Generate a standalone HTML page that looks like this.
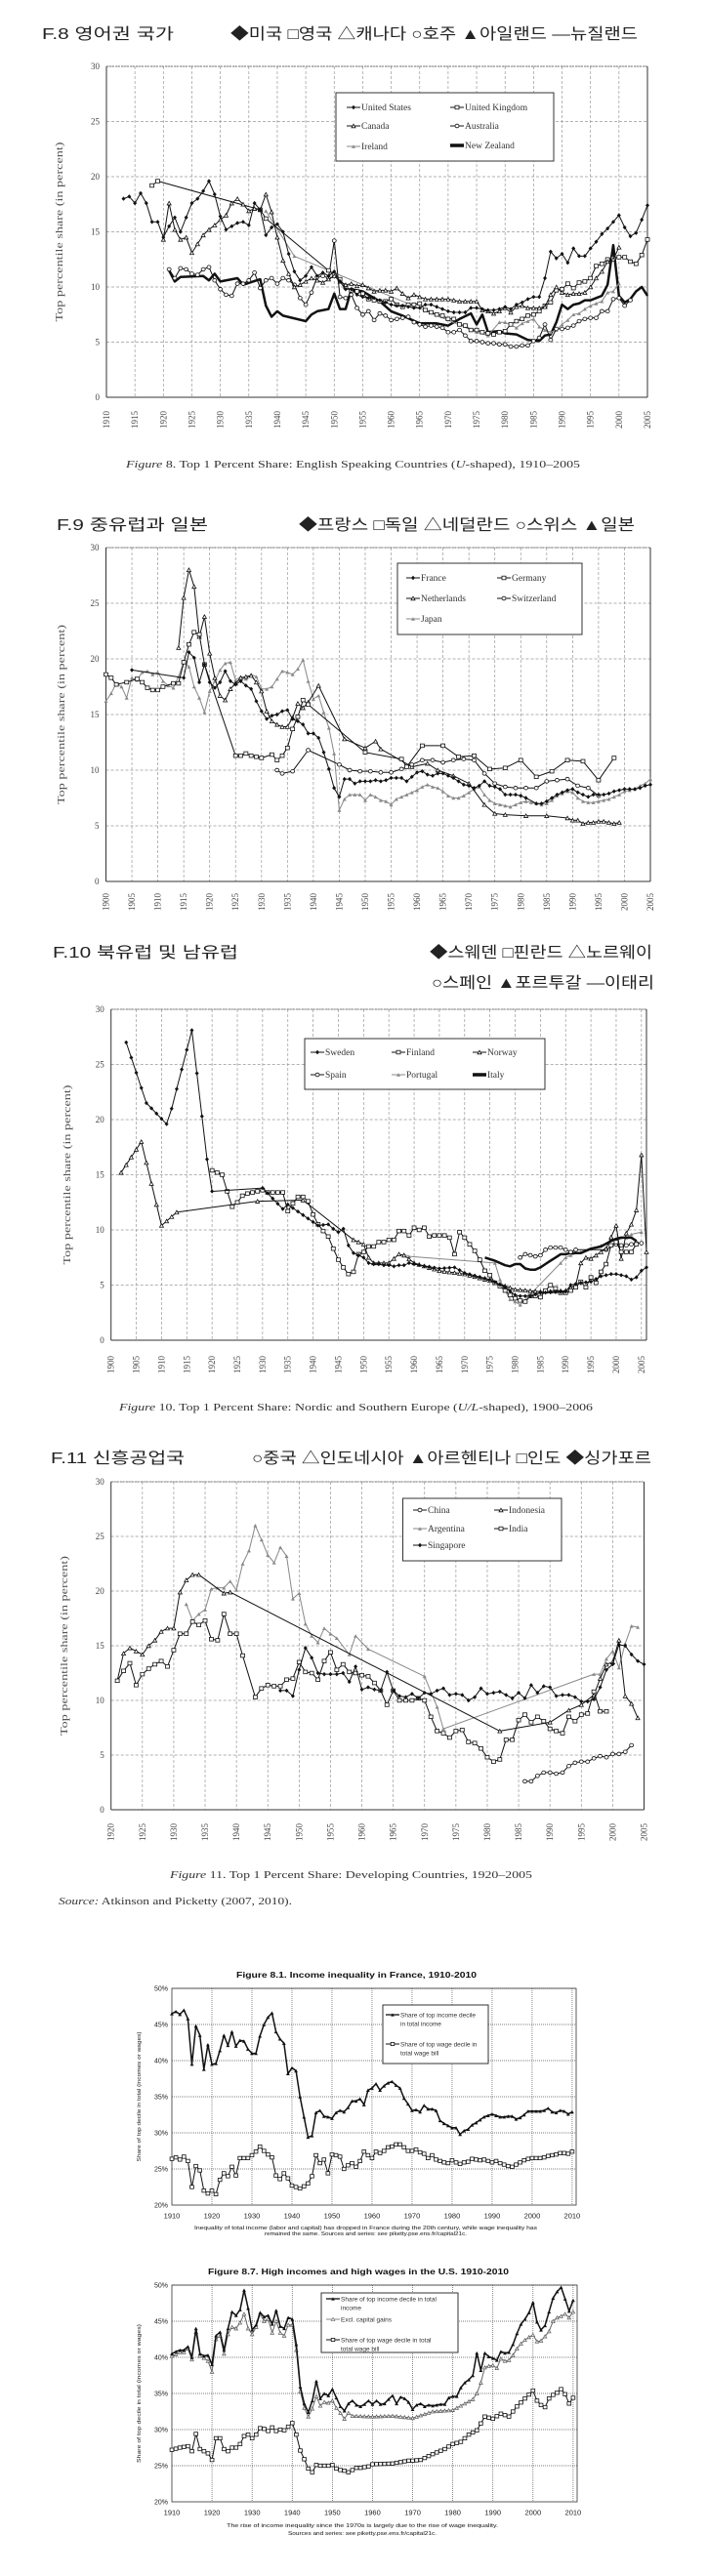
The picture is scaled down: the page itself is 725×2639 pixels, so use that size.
<!DOCTYPE html>
<html><head><meta charset="utf-8">
<style>
html,body{margin:0;padding:0;background:#fff;}
svg{display:block;}
</style></head>
<body>
<svg id="s" xmlns="http://www.w3.org/2000/svg" width="725" height="2639" viewBox="0 0 725 2639">
<rect width="725" height="2639" fill="#fff"/>
<g font-family="'Liberation Sans','Noto Sans CJK KR',sans-serif" font-size="16" fill="#222">
<text x="43" y="40" textLength="135" lengthAdjust="spacingAndGlyphs">F.8 영어권 국가</text>
<text x="236" y="40" textLength="417" lengthAdjust="spacingAndGlyphs">◆미국 □영국 △캐나다 ○호주 ▲아일랜드 —뉴질랜드</text>
<text x="58" y="543" textLength="155" lengthAdjust="spacingAndGlyphs">F.9 중유럽과 일본</text>
<text x="306" y="543" textLength="344" lengthAdjust="spacingAndGlyphs">◆프랑스 □독일 △네덜란드 ○스위스 ▲일본</text>
<text x="54" y="981" textLength="190" lengthAdjust="spacingAndGlyphs">F.10 북유럽 및 남유럽</text>
<text x="440" y="981" textLength="228" lengthAdjust="spacingAndGlyphs">◆스웨덴 □핀란드 △노르웨이</text>
<text x="442" y="1012" textLength="228" lengthAdjust="spacingAndGlyphs">○스페인 ▲포르투갈 —이태리</text>
<text x="52" y="1499" textLength="137" lengthAdjust="spacingAndGlyphs">F.11 신흥공업국</text>
<text x="258" y="1499" textLength="409" lengthAdjust="spacingAndGlyphs">○중국 △인도네시아 ▲아르헨티나 □인도 ◆싱가포르</text>
</g>
<g font-family="'Liberation Serif',serif" font-size="10" fill="#333">
<text x="129" y="479" textLength="465" lengthAdjust="spacingAndGlyphs"><tspan font-style="italic">Figure</tspan> 8. Top 1 Percent Share: English Speaking Countries (<tspan font-style="italic">U</tspan>-shaped), 1910–2005</text>
<text x="122" y="1445" textLength="485" lengthAdjust="spacingAndGlyphs"><tspan font-style="italic">Figure</tspan> 10. Top 1 Percent Share: Nordic and Southern Europe (<tspan font-style="italic">U/L</tspan>-shaped), 1900–2006</text>
<text x="174" y="1924" textLength="371" lengthAdjust="spacingAndGlyphs"><tspan font-style="italic">Figure</tspan> 11. Top 1 Percent Share: Developing Countries, 1920–2005</text>
<text x="60" y="1951" textLength="239" lengthAdjust="spacingAndGlyphs"><tspan font-style="italic">Source:</tspan> Atkinson and Picketty (2007, 2010).</text>
</g>
<g font-family="'Liberation Sans',sans-serif" fill="#111">
<text x="242" y="2026" font-size="8.5" font-weight="bold" textLength="246" lengthAdjust="spacingAndGlyphs">Figure 8.1. Income inequality in France, 1910-2010</text>
<text x="213" y="2330" font-size="8.5" font-weight="bold" textLength="308" lengthAdjust="spacingAndGlyphs">Figure 8.7. High incomes and high wages in the U.S. 1910-2010</text>
<text x="199" y="2284" font-size="5" textLength="351" lengthAdjust="spacingAndGlyphs">Inequality of total income (labor and capital) has dropped in France during the 20th century, while wage inequality has</text>
<text x="271" y="2290" font-size="5" textLength="207" lengthAdjust="spacingAndGlyphs">remained the same.  Sources and series: see piketty.pse.ens.fr/capital21c.</text>
<text x="232" y="2589" font-size="5" textLength="278" lengthAdjust="spacingAndGlyphs">The rise of income inequality since the 1970s is largely due to the rise of wage inequality.</text>
<text x="295" y="2597" font-size="5" textLength="152" lengthAdjust="spacingAndGlyphs">Sources and series: see piketty.pse.ens.fr/capital21c.</text>
</g>
<g id="g"></g>
</svg>
<script>
var NS="http://www.w3.org/2000/svg",G=document.getElementById("g");
function el(t,a,p,txt){if(typeof p==='string'||typeof p==='number'){txt=p;p=null;}var e=document.createElementNS(NS,t);for(var k in a)e.setAttribute(k,a[k]);if(txt!==undefined&&txt!==null)e.textContent=txt;(p||G).appendChild(e);return e;}
function P(s){var a=s.trim().split(/[\s,]+/).map(Number),r=[];for(var i=0;i<a.length;i+=2)r.push([a[i],a[i+1]]);return r;}
function fill(pts){var r=[];for(var i=0;i<pts.length;i++){r.push(pts[i]);if(i+1<pts.length){var a=pts[i],b=pts[i+1];if(b[0]-a[0]>1&&b[0]-a[0]<=6){for(var y=a[0]+1;y<b[0];y++)r.push([y,a[1]+(b[1]-a[1])*(y-a[0])/(b[0]-a[0])]);}}}return r;}
function marker(t,x,y,c,s){s=s||2;var h=s*0.9;
 if(t=='fd')el('path',{d:'M'+x+' '+(y-h-0.4)+'L'+(x+s)+' '+y+'L'+x+' '+(y+h+0.4)+'L'+(x-s)+' '+y+'Z',fill:c});
 else if(t=='os')el('rect',{x:x-s,y:y-h,width:2*s,height:2*h,fill:'#fff',stroke:c,'stroke-width':0.8});
 else if(t=='ot')el('path',{d:'M'+x+' '+(y-h)+'L'+(x+s)+' '+(y+h)+'L'+(x-s)+' '+(y+h)+'Z',fill:'#fff',stroke:c,'stroke-width':0.8});
 else if(t=='ft')el('path',{d:'M'+x+' '+(y-h)+'L'+(x+s)+' '+(y+h)+'L'+(x-s)+' '+(y+h)+'Z',fill:c});
 else if(t=='oc')el('ellipse',{cx:x,cy:y,rx:s,ry:h,fill:'#fff',stroke:c,'stroke-width':0.8});
}
function chart(o){
 var X=function(v){return o.x0+(v-o.yr0)/(o.yr1-o.yr0)*(o.x1-o.x0);},Y=function(v){return o.y1-(v-o.vmin)/(o.vmax-o.vmin)*(o.y1-o.y0);};
 var gd=o.pik?'1,1':'3,2',gc=o.pik?'#555':'#999';
 for(var v=o.vmin+o.vstep;v<=o.vmax;v+=o.vstep)el('line',{x1:o.x0,x2:o.x1,y1:Y(v),y2:Y(v),stroke:gc,'stroke-width':0.7,'stroke-dasharray':gd});
 for(var y=o.tk0;y<=o.yr1+0.01;y+=o.tstep){if(y>o.yr0)el('line',{x1:X(y),x2:X(y),y1:o.y0,y2:o.y1,stroke:gc,'stroke-width':0.7,'stroke-dasharray':gd});}
 if(o.pik)el('rect',{x:o.x0,y:o.y0,width:o.x1-o.x0,height:o.y1-o.y0,fill:'none',stroke:'#333','stroke-width':0.8});
 else{el('line',{x1:o.x0,x2:o.x0,y1:o.y0,y2:o.y1,stroke:'#333','stroke-width':1});el('line',{x1:o.x0,x2:o.x1,y1:o.y1,y2:o.y1,stroke:'#333','stroke-width':1});el('line',{x1:o.x1,x2:o.x1,y1:o.y0,y2:o.y1,stroke:'#333','stroke-width':1});el('line',{x1:o.x0,x2:o.x1,y1:o.y0,y2:o.y0,stroke:'#555','stroke-width':0.8,'stroke-dasharray':'2,1'});}
 for(var v=o.vmin;v<=o.vmax;v+=o.vstep){
  if(o.pik)el('text',{x:o.x0-4,y:Y(v)+2.5,'font-family':'Liberation Sans,sans-serif','font-size':7,'text-anchor':'end',fill:'#222'},null,v+'%');
  else el('text',{x:o.x0-7,y:Y(v)+3,'font-family':'Liberation Serif,serif','font-size':9,'text-anchor':'end',fill:'#444'},null,String(v));
 }
 for(var y=o.tk0;y<=o.yr1+0.01;y+=o.tstep){
  if(o.pik)el('text',{x:X(y),y:o.y1+13.5,'font-family':'Liberation Sans,sans-serif','font-size':7.5,'text-anchor':'middle',fill:'#222'},null,String(y));
  else el('text',{x:0,y:0,transform:'translate('+(X(y)+3)+','+(o.y1+o.ty)+') rotate(-90)','font-family':'Liberation Serif,serif','font-size':9,'text-anchor':'middle',fill:'#444'},null,String(y));
 }
 if(o.pik)el('text',{x:0,y:0,transform:'translate('+(o.x0-32)+','+((o.y0+o.y1)/2)+') rotate(-90)','font-family':'Liberation Sans,sans-serif','font-size':5,'text-anchor':'middle',fill:'#222',textLength:o.ytl,lengthAdjust:'spacingAndGlyphs'},null,'Share of top decile in total (incomes or wages)');
 else el('text',{x:0,y:0,transform:'translate('+o.yl+','+((o.y0+o.y1)/2)+') rotate(-90)','font-family':'Liberation Serif,serif','font-size':10,'text-anchor':'middle',fill:'#555',textLength:184,lengthAdjust:'spacingAndGlyphs'},null,'Top percentile share (in percent)');
 o.series.forEach(function(s){
  var pts=s.fill?fill(s.d):s.d;
  var d=pts.map(function(p,i){return (i?'L':'M')+X(p[0]).toFixed(1)+' '+Y(p[1]).toFixed(1);}).join('');
  el('path',{d:d,fill:'none',stroke:s.c,'stroke-width':s.w||1,'stroke-linejoin':'round'});
  if(s.m)pts.forEach(function(p){marker(s.m,X(p[0]),Y(p[1]),s.c,s.ms);});
 });
 var L=o.leg;
 el('rect',{x:L.x,y:L.y,width:L.w,height:L.h,fill:'#fff',stroke:'#333','stroke-width':1});
 L.items.forEach(function(it){
  el('line',{x1:it[0],x2:it[0]+14,y1:it[1],y2:it[1],stroke:it[3],'stroke-width':it[4]||1});
  if(it[2])marker(it[2],it[0]+7,it[1],it[3],o.pik?1.8:2);
  var t=el('text',{x:it[0]+15,y:it[1]+(o.pik?2.3:3),'font-family':o.pik?'Liberation Sans,sans-serif':'Liberation Serif,serif','font-size':o.pik?6.5:9.5,fill:'#333'});
  String(it[5]).split('|').forEach(function(ln,i){el('tspan',{x:it[0]+15,dy:i?9:0},t,ln);});
 });
}
var K='#111',GR='#888';
chart({x0:109,x1:663,y0:68,y1:407,ty:23,yr0:1910,yr1:2005,vmin:0,vmax:30,vstep:5,tk0:1910,tstep:5,yl:64,
leg:{x:344,y:95,w:223,h:70,items:[[355,110,'fd',K,1,'United States'],[461,110,'os',K,1,'United Kingdom'],[355,129,'ot',K,1,'Canada'],[461,129,'oc',K,1,'Australia'],[355,150,'ft',GR,1,'Ireland'],[461,149,null,K,3.5,'New Zealand']]},
series:[
{c:K,w:2.5,d:P('1921 11.5 1922 10.5 1923 10.9 1927 11 1928 10.6 1929 11.2 1930 10.5 1933 10.8 1934 10.2 1937 10.7 1938 8.3 1939 7.3 1940 7.8 1941 7.4 1945 6.9 1946 7.5 1947 7.8 1949 8 1950 9.4 1951 8.0 1952 8.0 1953 9.8 1955 9.6 1958 8.7 1960 7.8 1962 7.4 1965 6.7 1968 6.7 1970 6.5 1972 7.1 1974 7.6 1975 6.6 1976 7.5 1977 5.9 1979 6.0 1980 5.8 1982 5.7 1984 5.2 1986 5.1 1987 5.6 1988 5.7 1989 6.8 1990 8.4 1991 8 1992 8.4 1993 8.5 1994 8.8 1995 8.8 1996 9 1997 9.2 1998 10.2 1999 13.8 2000 9.2 2001 8.6 2002 8.9 2003 9.6 2004 10.0 2005 9.2')},
{c:GR,m:'ft',d:P('1938 16.9 1943 12.8 1975 5.9 1977 5.6 1979 6.8 1980 6.8 1982 6.3 1983 6.7 1984 6.9 1985 7.1 1986 6.4 1987 6.1 1988 5.9 1989 6.1 1990 6.6 1991 7.0 1992 7.5 1993 7.6 1994 8.0 1995 8.3 1996 8.5 1997 8.7 1998 9.5 1999 9.6 2000 10.3')},
{c:K,m:'oc',fill:1,d:P('1921 11.6 1922 10.8 1923 11.7 1924 11.6 1925 11.2 1926 11.1 1927 11.6 1928 11.8 1929 10.6 1930 9.8 1931 9.3 1932 9.2 1933 10.3 1934 10.3 1935 10.6 1936 11.3 1937 9.9 1938 10.6 1939 10.8 1940 10.3 1941 10.8 1942 10.6 1943 10.2 1944 9 1945 8.4 1946 9.5 1947 10.9 1948 11 1949 10.8 1950 14.2 1951 9.1 1952 9.0 1953 9.3 1954 8.1 1955 7.5 1956 7.8 1957 7.0 1958 7.6 1959 7.4 1960 7.0 1961 7.1 1962 7.2 1963 7.3 1964 6.8 1965 6.6 1966 6.4 1967 6.5 1968 6.4 1969 6.3 1970 5.9 1971 5.9 1972 6.1 1973 5.6 1974 5.1 1975 5.1 1976 5.0 1977 4.9 1978 4.9 1979 4.8 1980 4.8 1981 4.6 1982 4.6 1983 4.7 1984 4.7 1985 5.1 1986 5.4 1987 6.6 1988 5.2 1989 6.2 1990 6.2 1991 6.3 1992 6.5 1993 6.9 1994 7.1 1995 7.2 1996 7.2 1997 7.8 1998 7.8 1999 8.9 2000 9.0 2001 8.3 2002 8.8')},
{c:K,m:'os',fill:1,d:P('1918 19.2 1919 19.6 1937 17 1938 16.2 1949 11.5 1951 10.7 1952 10 1953 9.7 1954 9.6 1955 9.4 1956 8.9 1957 8.8 1958 8.7 1959 8.7 1960 8.9 1961 8.4 1962 8.2 1963 8.4 1964 8.4 1965 8.5 1966 7.9 1967 7.7 1968 7.5 1969 7.4 1970 7.1 1971 7.1 1972 6.6 1973 6.5 1974 6.1 1975 6.1 1976 5.9 1977 5.8 1978 5.7 1979 5.9 1980 6 1981 6.6 1982 6.9 1983 7.1 1984 7.4 1985 7.5 1986 7.8 1987 8.3 1988 8.6 1989 9.7 1990 9.8 1991 10.3 1992 9.9 1993 10.4 1994 10.5 1995 10.8 1996 11.9 1997 12.1 1998 12.5 1999 12.6 2000 12.7 2001 12.7 2002 12.3 2003 12.1 2004 12.9 2005 14.3')},
{c:K,m:'ot',d:P('1920 14.3 1921 17.6 1922 15.2 1923 14.3 1924 14.5 1925 13.1 1926 13.9 1927 14.7 1928 15.2 1929 15.6 1930 16.1 1931 16.5 1932 17.6 1933 18.0 1934 17.5 1935 16.9 1936 17.1 1937 17 1938 18.4 1939 16.8 1940 14.5 1941 12.4 1942 11.2 1943 10 1944 10.2 1945 10.5 1946 10.8 1947 10.6 1948 10.4 1949 10.7 1950 11 1951 10.5 1952 10.2 1953 10.3 1954 10.1 1955 10.2 1956 9.9 1957 9.6 1958 9.7 1959 9.7 1960 9.6 1961 9.9 1962 9.4 1963 9.0 1964 9.3 1965 9.1 1966 8.9 1967 8.9 1968 8.9 1969 8.9 1970 8.9 1971 8.8 1972 8.7 1973 8.7 1974 8.7 1975 8.7 1976 7.9 1977 7.8 1978 7.6 1979 7.8 1980 8.1 1981 7.7 1982 8.2 1983 8.3 1984 8.1 1985 8.1 1986 8.1 1987 8.2 1988 9.3 1989 10 1990 9.5 1991 9.3 1992 9.4 1993 9.4 1994 9.5 1995 10.0 1996 10.8 1997 11.4 1998 12.3 1999 12.5 2000 13.6')},
{c:K,m:'fd',d:P('1913 18 1914 18.2 1915 17.6 1916 18.5 1917 17.6 1918 15.9 1919 15.9 1920 14.5 1921 15.5 1922 16.3 1923 15 1924 16.3 1925 17.6 1926 18 1927 18.7 1928 19.6 1929 18.4 1930 16.4 1931 15.2 1932 15.5 1933 15.8 1934 15.9 1935 15.6 1936 17.6 1937 17 1938 14.7 1939 15.4 1940 15.7 1941 15 1942 13 1943 11.4 1944 10.6 1945 11 1946 11.8 1947 11 1948 11.3 1949 11 1950 11.4 1951 10.5 1952 9.8 1953 9.8 1954 9.3 1955 9.1 1956 9.0 1957 9.0 1958 8.8 1959 8.6 1960 8.4 1961 8.3 1962 8.3 1963 8.2 1964 8.1 1965 8.1 1966 8.4 1967 8.4 1968 8.2 1969 8.0 1970 7.8 1971 7.7 1972 7.7 1973 7.7 1974 8.1 1975 8.1 1976 8 1977 7.9 1978 7.9 1979 8.0 1980 8.2 1981 8.0 1982 8.4 1983 8.6 1984 8.9 1985 9.1 1986 9.1 1987 10.8 1988 13.2 1989 12.6 1990 13.0 1991 12.2 1992 13.5 1993 12.8 1994 12.8 1995 13.5 1996 14.1 1997 14.8 1998 15.3 1999 15.9 2000 16.5 2001 15.4 2002 14.6 2003 14.9 2004 16.1 2005 17.4')}
]});
chart({x0:108.5,x1:666,y0:561,y1:903,ty:21,yr0:1900,yr1:2005,vmin:0,vmax:30,vstep:5,tk0:1900,tstep:5,yl:66,
leg:{x:407,y:577,w:189,h:73,items:[[416,592,'fd',K,1,'France'],[509,592,'os',K,1,'Germany'],[416,613,'ot',K,1,'Netherlands'],[509,613,'oc',K,1,'Switzerland'],[416,634,'ft',GR,1,'Japan']]},
series:[
{c:GR,m:'ft',d:P('1900 16.2 1901 16.9 1902 17.8 1903 17.5 1904 16.5 1905 18.3 1906 18.1 1907 18.8 1908 18.9 1909 18.6 1910 18.8 1911 18.0 1912 17.6 1913 17.4 1914 18.4 1915 19.7 1916 19.3 1917 17.5 1918 16.5 1919 15.2 1920 17.1 1921 18.0 1922 19.0 1923 19.6 1924 19.7 1925 18.1 1926 18.4 1927 18.2 1928 18.6 1929 18.4 1930 17.3 1931 17.3 1932 17.5 1933 18.2 1934 18.9 1935 18.8 1936 18.6 1937 19.1 1938 19.9 1939 18.0 1940 16.4 1941 16.7 1942 15.2 1943 13.8 1944 11.5 1945 6.4 1946 7.4 1947 7.8 1948 7.8 1949 7.8 1950 7.3 1951 7.8 1952 7.6 1953 7.3 1954 7.2 1955 6.9 1956 7.4 1957 7.6 1958 7.8 1959 8.0 1960 8.2 1961 8.5 1962 8.7 1963 8.5 1964 8.4 1965 8.1 1966 7.7 1967 7.5 1968 7.5 1969 7.7 1970 8.0 1971 8.3 1972 8.5 1973 7.8 1974 7.3 1975 7.0 1976 6.9 1977 6.8 1978 6.7 1979 6.9 1980 7.1 1981 7.2 1982 7.1 1983 7.0 1984 6.9 1985 7.0 1986 7.3 1987 7.7 1988 7.9 1989 8.1 1990 8.0 1991 7.5 1992 7.2 1993 7.1 1994 7.1 1995 7.2 1996 7.3 1997 7.4 1998 7.6 1999 7.8 2000 8.1 2001 8.2 2002 8.3 2003 8.6 2004 8.8 2005 9.2')},
{c:K,m:'ot',d:P('1914 21 1915 25.5 1916 28 1917 26.5 1918 22 1919 23.8 1920 20.5 1921 18.3 1922 16.7 1923 16.3 1924 17.3 1925 17.8 1926 18.3 1927 18.4 1928 18.5 1929 17.9 1930 17.1 1931 15.3 1932 14.4 1933 14.1 1934 13.9 1935 13.9 1936 14.7 1937 16 1938 15.6 1939 16.1 1941 17.6 1946 12.8 1950 12.0 1952 12.6 1953 11.9 1959 10.3 1962 10.6 1964 10.0 1967 9.5 1970 8.8 1973 6.9 1975 6.1 1977 6.0 1981 5.9 1985 5.9 1989 5.7 1990 5.5 1991 5.5 1992 5.2 1993 5.3 1994 5.3 1995 5.4 1996 5.4 1997 5.3 1998 5.2 1999 5.3')},
{c:K,m:'oc',d:P('1933 10 1934 9.7 1936 9.9 1939 11.8 1945 10.5 1947 10.0 1949 9.9 1951 9.9 1953 9.8 1955 9.8 1957 10.1 1959 10.5 1961 10.9 1963 10.9 1965 10.7 1967 10.9 1969 11.0 1971 10.9 1973 9.7 1975 8.8 1977 8.5 1979 8.4 1981 8.4 1983 8.4 1985 9.0 1987 9.1 1989 9.2 1991 8.6 1993 8.4 1995 7.7')},
{c:K,m:'os',d:P('1900 18.6 1901 18.3 1902 17.7 1904 17.9 1906 18.2 1907 17.9 1908 17.4 1909 17.2 1910 17.2 1911 17.5 1913 17.8 1914 17.8 1915 19.7 1916 21.3 1917 22.4 1918 22.2 1919 19.5 1925 11.3 1926 11.3 1927 11.5 1928 11.3 1929 11.2 1930 11.1 1932 11.4 1933 10.9 1934 11.3 1935 12.0 1936 13.7 1937 14.8 1938 16.3 1939 15.9 1950 11.6 1957 11.0 1958 10.3 1961 12.2 1965 12.2 1968 11.2 1971 11.3 1974 10.1 1977 10.2 1980 10.9 1983 9.4 1986 9.9 1989 10.9 1992 10.8 1995 9.1 1998 11.1')},
{c:K,m:'fd',d:P('1905 19 1915 18.3 1916 20.6 1917 20.1 1918 17.9 1919 19.5 1920 17.9 1921 17.4 1922 17.9 1923 18.9 1924 18.0 1925 17.7 1926 18.0 1927 17.6 1928 17.3 1929 16.2 1930 15.3 1931 14.6 1932 14.9 1933 15.0 1934 15.3 1935 15.4 1936 14.6 1937 14.4 1938 14.1 1939 13.3 1940 13.3 1941 12.9 1942 11.6 1943 10.1 1944 8.4 1945 7.6 1946 9.2 1947 9.2 1948 8.8 1949 9.0 1950 9.0 1951 9.0 1952 9.1 1953 9.0 1954 9.1 1955 9.3 1956 9.3 1957 9.3 1958 9.0 1959 9.4 1960 9.8 1961 9.9 1962 9.6 1963 9.5 1964 9.7 1965 9.7 1966 9.5 1967 9.3 1968 9.0 1969 8.7 1970 8.6 1971 8.4 1972 8.6 1973 9.0 1974 8.6 1975 8.5 1976 8.3 1977 7.8 1978 7.8 1979 7.8 1980 7.7 1981 7.5 1983 7.0 1984 7.0 1985 7.2 1986 7.5 1987 7.8 1988 8.0 1989 8.2 1990 8.3 1991 8.0 1992 7.8 1993 7.6 1994 7.8 1995 7.8 1996 7.8 1997 7.9 1998 8.1 1999 8.2 2000 8.3 2001 8.3 2002 8.3 2003 8.4 2004 8.6 2005 8.7')}
]});
chart({x0:113.7,x1:662,y0:1034,y1:1373,ty:25,yr0:1900,yr1:2006,vmin:0,vmax:30,vstep:5,tk0:1900,tstep:5,yl:72,
leg:{x:312,y:1064,w:246,h:52,items:[[318,1078,'fd',K,1,'Sweden'],[401,1078,'os',K,1,'Finland'],[484,1078,'ot',K,1,'Norway'],[318,1101,'oc',K,1,'Spain'],[401,1101,'ft',GR,1,'Portugal'],[484,1101,null,K,3.5,'Italy']]},
series:[
{c:GR,m:'ft',d:P('1958 7.8 1959 7.6 1976 7.0 1977 5.5 1978 4.5 1979 3.7 1980 3.5 1981 3.2 1989 7.0 1990 7.5 1991 7.7 1993 8.0 1995 8.3 1997 8.6 2000 9.1 2002 9.3 2003 9.6 2005 9.8')},
{c:K,w:2.5,d:P('1974 7.5 1976 7.2 1978 6.8 1979 6.7 1980 6.9 1981 6.9 1982 6.5 1983 6.4 1984 6.4 1985 6.6 1986 6.9 1987 7.2 1988 7.5 1989 7.8 1990 7.8 1991 7.9 1992 7.9 1993 7.9 1995 8.3 1997 8.5 1999 9.0 2000 9.2 2001 9.3 2002 9.3 2003 9.3 2004 9.0')},
{c:K,m:'oc',d:P('1981 7.5 1982 7.8 1983 7.7 1984 7.6 1985 7.7 1986 8.2 1987 8.4 1988 8.4 1989 8.4 1990 8.2 1991 8.0 1992 8.2 1998 8.2 2000 8.7 2001 8.6 2002 8.6 2003 8.7 2004 8.8 2005 8.8')},
{c:K,m:'ot',fill:1,d:P('1902 15.2 1906 18 1910 10.4 1913 11.6 1929 12.6 1938 12.7 1948 9.1 1949 8.9 1950 8.7 1951 7.5 1952 7.0 1955 7.0 1957 7.8 1958 7.7 1960 7.0 1965 6.3 1970 6.0 1975 5.4 1980 4.6 1985 4.4 1990 4.5 1992 5.0 1993 7.0 1994 7.5 1995 7.4 1998 8.3 2000 10.4 2001 7.4 2002 9.7 2003 10.5 2004 11.8 2005 16.8 2006 8.0')},
{c:K,m:'os',d:P('1920 15.4 1921 15.2 1922 15.0 1923 13.5 1924 12.1 1925 12.5 1926 13.1 1927 13.3 1928 13.4 1929 13.5 1930 13.6 1931 13.4 1932 13.4 1933 13.4 1934 13.4 1935 11.7 1936 12.4 1937 13.0 1938 13.0 1939 12.6 1940 11.4 1941 10.5 1942 9.9 1943 9.4 1944 8.3 1945 7.3 1946 6.6 1947 6.0 1948 6.2 1949 7.8 1950 8.0 1951 8.5 1952 8.5 1953 8.9 1954 8.9 1955 9.1 1956 9.1 1957 9.9 1958 9.9 1959 9.5 1960 10.2 1961 10.0 1962 10.2 1963 9.4 1964 9.5 1965 9.5 1966 9.5 1967 9.3 1968 7.8 1969 9.8 1970 9.3 1971 8.7 1972 8.1 1973 7.3 1974 6.3 1975 5.9 1976 5.2 1977 4.9 1978 4.5 1979 4.1 1980 3.8 1981 3.6 1982 3.5 1983 4.0 1984 4.0 1985 3.9 1986 4.5 1987 5.0 1988 4.7 1989 4.3 1990 4.3 1991 4.5 1992 4.8 1993 5.3 1994 4.8 1995 5.7 1996 5.2 1997 6.2 1998 6.9 1999 8.6 2000 8.9 2001 8.0 2002 8.0 2003 8.0 2004 8.7')},
{c:K,m:'fd',fill:1,d:P('1903 27 1907 21.5 1911 19.6 1912 21 1916 28.1 1919 16.4 1920 13.5 1930 13.8 1934 11.9 1935 12.3 1941 10.4 1943 10.5 1944 10.1 1945 9.8 1946 10.1 1947 8.6 1948 7.9 1949 7.7 1950 7.5 1951 7.0 1952 6.9 1953 6.9 1954 6.8 1955 6.8 1956 6.7 1957 6.8 1958 6.8 1959 7.0 1960 6.9 1965 6.5 1968 6.6 1970 6.1 1975 5.5 1978 4.8 1980 4.1 1981 4.0 1983 4.0 1985 4.3 1990 4.4 1991 5.0 1993 5.2 1995 5.3 1997 5.8 1999 6.0 2000 6.0 2001 5.9 2002 5.8 2003 5.5 2004 5.7 2005 6.3 2006 6.6')}
]});
chart({x0:113.7,x1:659.5,y0:1518,y1:1854,ty:23,yr0:1920,yr1:2005,vmin:0,vmax:30,vstep:5,tk0:1920,tstep:5,yl:69,
leg:{x:412.5,y:1535,w:162.5,h:64,items:[[423,1547,'oc',K,1,'China'],[506,1547,'ot',K,1,'Indonesia'],[423,1566,'ft',GR,1,'Argentina'],[506,1566,'os',K,1,'India'],[423,1583,'fd',K,1,'Singapore']]},
series:[
{c:GR,m:'ft',d:P('1932 18.8 1933 17.3 1934 17.9 1935 18.3 1936 20.2 1937 20.3 1938 20.3 1939 20.9 1940 20.1 1941 22.5 1942 23.7 1943 26.0 1944 24.7 1945 23.3 1946 22.6 1947 24.0 1948 23.2 1949 19.3 1950 19.8 1951 17.0 1952 15.9 1953 15.3 1954 16.6 1955 16.1 1956 15.7 1958 14.2 1959 15.9 1961 14.7 1970 12.2 1972 9.4 1973 7.4 1997 12.4 1998 12.4 1999 13.8 2000 14.5 2001 13.0 2002 15.2 2003 16.8 2004 16.7')},
{c:K,m:'ot',d:P('1921 11.8 1922 14.3 1923 14.8 1924 14.5 1925 14.2 1926 15.0 1927 15.5 1928 16.3 1929 16.6 1930 16.6 1931 19.9 1932 21 1933 21.5 1934 21.5 1938 19.8 1939 19.9 1982 7.2 1990 8.0 1993 9.1 1995 9.6 1997 10.5 1998 12.0 1999 13.3 2000 13.5 2001 15.5 2002 10.4 2003 9.7 2004 8.4')},
{c:K,m:'os',d:P('1921 11.8 1922 12.7 1923 13.4 1924 11.4 1925 12.4 1926 12.9 1927 13.3 1928 13.6 1929 13.1 1930 14.6 1931 16.1 1932 16.1 1933 17.2 1934 16.9 1935 17.3 1936 15.6 1937 15.5 1938 17.9 1939 16.1 1940 16.1 1941 14.1 1943 10.3 1944 11.1 1945 11.4 1946 11.3 1947 11.3 1948 11.9 1949 12.0 1950 13.5 1951 12.6 1952 12.5 1953 11.9 1954 13.6 1955 14.4 1956 12.8 1957 13.3 1958 12.6 1959 12.5 1960 12.3 1961 12.2 1962 11.6 1963 10.9 1964 9.6 1965 10.9 1966 10.0 1967 10.0 1968 10.0 1969 10.2 1970 10.0 1971 8.5 1972 7.2 1973 7.0 1974 6.6 1975 7.2 1976 7.3 1977 6.2 1978 6.1 1979 5.6 1980 4.8 1981 4.4 1982 4.6 1983 6.4 1984 6.4 1985 8.2 1986 8.7 1987 8.0 1988 8.5 1989 8.1 1990 7.4 1991 7.2 1992 7.0 1993 8.5 1994 8.1 1995 8.7 1996 8.8 1997 10.8 1998 9.0 1999 9.0')},
{c:K,m:'oc',d:P('1986 2.6 1987 2.6 1988 3.1 1989 3.4 1990 3.4 1991 3.3 1992 3.4 1993 4.0 1994 4.3 1995 4.4 1996 4.4 1997 4.7 1998 4.9 1999 4.8 2000 5.1 2001 5.1 2002 5.3 2003 5.9')},
{c:K,m:'fd',d:P('1947 10.9 1948 10.9 1949 10.4 1950 12.8 1951 14.8 1952 13.9 1953 12.5 1954 12.4 1955 12.4 1956 12.4 1957 12.5 1958 11.7 1959 13.1 1960 11.0 1961 11.2 1962 11.0 1963 10.9 1964 12.6 1965 10.9 1966 10.4 1967 10.3 1968 10.6 1969 10.2 1970 10.7 1971 10.6 1972 10.9 1973 11.1 1974 10.5 1975 10.6 1976 10.5 1977 10.0 1978 10.3 1979 11.1 1980 10.6 1981 10.7 1982 10.8 1983 10.5 1984 10.2 1985 10.7 1986 10.2 1987 11.4 1988 10.7 1989 11.3 1990 11.2 1991 10.4 1992 10.5 1993 10.5 1994 10.3 1995 9.9 1996 9.9 1997 10.1 1998 11.2 1999 12.8 2000 13.3 2001 15.1 2002 15.0 2003 14.2 2004 13.6 2005 13.3')}
]});
chart({pik:1,ytl:133,x0:176,x1:590,y0:2037,y1:2259,yr0:1910,yr1:2011,vmin:20,vmax:50,vstep:5,tk0:1910,tstep:10,
leg:{x:392,y:2054,w:108,h:60,items:[[395,2064,'ft',K,1.3,'Share of top income decile|in total income'],[395,2094,'os',K,1,'Share of top wage decile in|total wage bill']]},
series:[
{c:K,m:'os',ms:1.9,d:P('1910 26.4 1911 26.6 1912 26.3 1913 26.7 1914 26.1 1915 22.5 1916 25.4 1917 24.8 1918 22 1919 21.6 1920 22 1921 21.5 1922 23.5 1923 24.4 1924 24 1925 25.3 1926 24.1 1927 26.5 1928 26.5 1929 26.5 1930 26.9 1931 27.4 1932 28.1 1933 27.5 1934 27 1935 26.6 1936 24.1 1937 23.6 1938 24.4 1939 23.7 1940 22.7 1941 22.5 1942 22.3 1943 22.6 1944 23 1945 24 1946 26.9 1947 25.8 1948 26.3 1949 24.4 1950 27 1951 26.9 1952 26.7 1953 25 1954 25.5 1955 25.8 1956 25.3 1957 26.1 1958 27.4 1959 26.9 1960 26.5 1961 27.4 1962 27.2 1963 27.5 1964 28 1965 28.1 1966 28.4 1967 28.4 1968 28 1969 27.5 1970 27.5 1971 27.7 1972 27.3 1973 27.1 1974 26.5 1975 26.9 1976 26.3 1977 26.1 1978 25.9 1979 25.8 1980 26.2 1981 25.9 1982 25.7 1983 25.9 1984 26 1985 26.4 1986 26.3 1987 26.2 1988 26.3 1989 26.1 1990 25.9 1991 26.1 1992 25.8 1993 25.6 1994 25.4 1995 25.3 1996 25.6 1997 25.9 1998 26.2 1999 26.4 2000 26.5 2001 26.5 2002 26.5 2003 26.6 2004 26.8 2005 26.9 2006 27 2007 27.2 2008 27.2 2009 27.1 2010 27.4')},
{c:K,w:1.5,m:'ft',ms:1.9,d:P('1910 46.5 1911 46.8 1912 46.4 1913 47 1914 45.8 1915 39.5 1916 44.8 1917 43.5 1918 38.8 1919 42.2 1920 39.5 1921 39.6 1922 41.4 1923 43.5 1924 42.1 1925 44 1926 42 1927 42.8 1928 42.7 1929 41.6 1930 41 1931 41 1932 43.4 1933 45 1934 46 1935 46.6 1936 44 1937 43 1938 42.4 1939 38.2 1940 39 1941 38.6 1942 35 1943 32.2 1944 29.4 1945 29.6 1946 32.8 1947 33.1 1948 32.3 1949 32.2 1950 32 1951 32.8 1952 33.1 1953 32.9 1954 33.5 1955 34.4 1956 34.4 1957 34.7 1958 33.9 1959 35.9 1960 36.2 1961 36.8 1962 35.9 1963 36.5 1964 36.9 1965 37.1 1966 36.6 1967 36.2 1968 34.8 1969 34 1970 33.1 1971 33.2 1972 32.9 1973 33.8 1974 33.3 1975 33.3 1976 33.1 1977 31.7 1978 31.3 1979 31 1980 30.7 1981 30.7 1982 29.8 1983 30.3 1984 30.5 1985 31.1 1986 31.4 1987 31.8 1988 32.2 1989 32.4 1990 32.6 1991 32.4 1992 32.2 1993 32.2 1994 32.3 1995 32.3 1996 31.9 1997 32.1 1998 32.5 1999 33.0 2000 33 2001 33 2002 33 2003 33.1 2004 33.4 2005 32.9 2006 32.8 2007 33.1 2008 33 2009 32.6 2010 32.9')}
]});
chart({pik:1,ytl:142,x0:176,x1:591,y0:2341,y1:2563,yr0:1910,yr1:2011,vmin:20,vmax:50,vstep:5,tk0:1910,tstep:10,
leg:{x:329,y:2349,w:140,h:61,items:[[334,2355,'ft',K,1.3,'Share of top income decile in total|income'],[334,2376,'ot',GR,1,'Excl. capital gains'],[334,2397,'os',K,1,'Share of top wage decile in total|total wage bill']]},
series:[
{c:K,m:'os',ms:1.9,fill:1,d:P('1910 27.2 1912 27.5 1914 27.7 1915 27 1916 29.4 1917 27.3 1918 27 1919 26.7 1920 25.8 1921 28.8 1922 28.8 1923 27.3 1924 27 1925 27.5 1926 27.5 1927 28 1928 29.1 1929 29.3 1930 28.8 1931 29.3 1932 30.2 1933 30.1 1934 29.8 1935 30.3 1936 29.8 1937 30.0 1938 29.9 1939 30.4 1940 30.9 1941 29.3 1942 27.1 1943 25.9 1944 24.6 1945 24.1 1946 25.1 1947 25 1948 25 1949 25 1950 25.1 1951 24.6 1952 24.4 1953 24.3 1954 24.1 1955 24.4 1956 24.7 1957 24.7 1958 24.8 1959 24.9 1960 25.2 1965 25.3 1969 25.7 1970 25.7 1972 25.8 1975 26.6 1978 27.3 1980 28.0 1982 28.3 1984 29.3 1986 29.9 1988 31.8 1990 31.5 1992 32.2 1994 31.8 1996 33.2 1998 34.3 2000 35.4 2001 34.0 2002 33.4 2003 33.1 2004 34.3 2005 34.8 2006 35.1 2007 35.6 2008 34.9 2009 33.6 2010 34.4')},
{c:'#666',m:'ot',ms:1.7,fill:1,d:P('1910 40.2 1911 40.4 1912 40.7 1913 40.7 1914 41.2 1915 39.7 1916 43.5 1917 40.2 1918 39.9 1919 39.5 1920 38 1921 42.5 1922 43 1923 40.5 1924 43.2 1925 44.2 1926 44 1927 44.8 1928 46 1929 44 1930 43.2 1931 44.2 1932 46 1933 45 1934 45.3 1935 43.4 1936 45 1937 43.4 1938 43 1939 44.5 1940 44.5 1941 41 1942 35.3 1943 33 1944 31.8 1945 32.9 1946 34.6 1947 33.3 1948 33.8 1949 33.7 1950 34 1951 33 1952 32.3 1953 31.5 1954 32.3 1955 31.9 1960 31.8 1965 31.9 1970 31.6 1975 32.5 1980 32.7 1985 34.2 1986 35.0 1987 36.5 1988 38.6 1989 38.8 1990 38.9 1991 38.5 1992 39.8 1993 39.5 1994 39.6 1995 40.3 1996 41.2 1997 41.9 1998 42.4 1999 42.8 2000 43.1 2001 42.2 2002 42.3 2003 42.9 2004 43.6 2005 45 2006 45.5 2007 45.7 2008 46 2009 45.5 2010 46.3')},
{c:K,w:1.5,m:'ft',ms:1.9,d:P('1910 40.5 1911 40.8 1912 41 1913 41 1914 41.5 1915 40 1916 44 1917 40.5 1918 40.2 1919 40.3 1920 39 1921 43 1922 43.5 1923 41 1924 44 1925 46.3 1926 45.8 1927 46.6 1928 49.3 1929 46.8 1930 43.8 1931 44.5 1932 46.2 1933 45.6 1934 45.8 1935 44.6 1936 46.5 1937 44.3 1938 44 1939 45.5 1940 45.3 1941 41.8 1942 35.9 1943 33.6 1944 32.4 1945 34 1946 36.7 1947 34.3 1948 35 1949 34.7 1950 35.6 1951 34.4 1952 33.2 1953 32.6 1954 33.6 1955 34 1956 33.4 1957 33.2 1958 33.5 1959 34 1960 33.5 1961 34 1962 33.5 1963 33.6 1964 34.2 1965 34.7 1966 33.6 1967 34.5 1968 34.3 1969 33.8 1970 32.8 1971 33.4 1972 33.6 1973 33.2 1974 33.4 1975 33.3 1976 33.4 1977 33.5 1978 33.5 1979 34.4 1980 34.6 1981 34.6 1982 35.8 1983 36.5 1984 36.9 1985 37.5 1986 40.6 1987 38.2 1988 40.6 1989 40.1 1990 39.9 1991 39.6 1992 40.8 1993 40.6 1994 40.7 1995 41.8 1996 43.3 1997 44.6 1998 45.3 1999 46.2 2000 47.6 2001 44.9 2002 43.8 2003 44.4 2004 46.3 2005 48.2 2006 49.1 2007 49.7 2008 48.1 2009 46.4 2010 47.9')}
]});
</script>
</body></html>
